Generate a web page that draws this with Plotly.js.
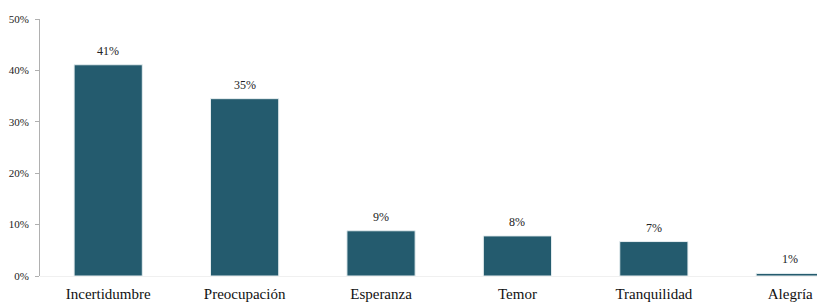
<!DOCTYPE html>
<html><head><meta charset="utf-8">
<script src="https://cdn.plot.ly/plotly-3.0.1.min.js"></script>
<style>html,body{margin:0;padding:0;background:#fff;}</style>
</head><body><div id="chart" style="width:817px;height:303px;"></div>
<script>
const categories = ["Incertidumbre","Preocupación","Esperanza","Temor","Tranquilidad","Alegría"];
const values = [41.1, 34.5, 8.8, 7.8, 6.7, 0.5];
const labels = ["41%","35%","9%","8%","7%","1%"];
const yTicks = [0,10,20,30,40,50];
const yTickText = ["0%","10%","20%","30%","40%","50%"];

const FONT = "Liberation Serif, DejaVu Serif, serif";
const xs = categories.map((c,i)=>i);
const trace = {
  type: "bar",
  x: xs,
  y: values,
  marker: {color: "#245B6E", line: {color: "#e6eef0", width: 1}},
  width: 0.5,
  hoverinfo: "none"
};
const annotations = xs.map((x,i)=>({
  x: x, y: values[i], xref: "x", yref: "y",
  text: labels[i], showarrow: false,
  yanchor: "bottom", yshift: 5,
  font: {family: FONT, size: 12, color: "#222"}
}));
const layout = {
  width: 817, height: 303,
  margin: {l: 40, r: 0, t: 19, b: 27},
  paper_bgcolor: "#fff", plot_bgcolor: "#fff",
  showlegend: false,
  font: {family: FONT, color: "#222"},
  annotations: annotations,
  xaxis: {
    range: [-0.5, 5.196],
    tickmode: "array",
    tickvals: xs,
    ticktext: categories,
    tickfont: {size: 15, color: "#111"},
    ticks: "",
    showline: false,
    showgrid: false,
    zeroline: false,
    ticklabelstandoff: 7
  },
  yaxis: {
    range: [0, 50],
    tickmode: "array",
    tickvals: yTicks,
    ticktext: yTickText,
    tickfont: {size: 11, color: "#222"},
    ticks: "outside",
    ticklen: 4,
    tickcolor: "#b0b0b0",
    showline: true,
    linecolor: "#b0b0b0",
    linewidth: 1,
    showgrid: false,
    zeroline: true,
    zerolinecolor: "#f0f0f0",
    ticklabelstandoff: 4
  }
};
Plotly.newPlot("chart", [trace], layout, {staticPlot: true});
</script></body></html>
